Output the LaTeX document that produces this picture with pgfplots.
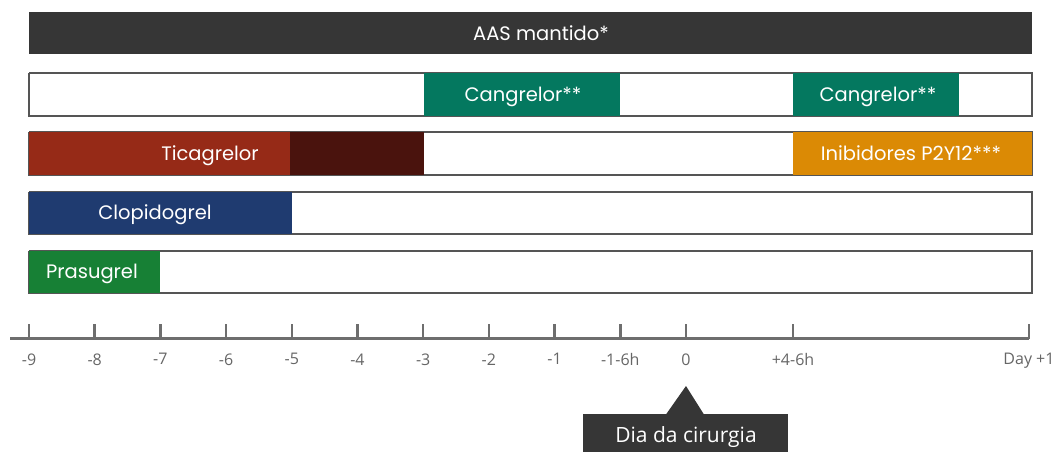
\documentclass[border=0pt]{standalone}
\usepackage{fontspec}
\setmainfont{Open Sans}
\newfontfamily\barfont{Poppins}
\usepackage{pgfplots}
\pgfplotsset{compat=1.18}
\definecolor{aas}{HTML}{363636}
\definecolor{teal}{HTML}{04785F}
\definecolor{tica}{HTML}{962A17}
\definecolor{ticb}{HTML}{4A130D}
\definecolor{orng}{HTML}{DB8A05}
\definecolor{clop}{HTML}{1F3B70}
\definecolor{pras}{HTML}{178035}
\definecolor{axisgray}{HTML}{6E6E6E}
\definecolor{labelgray}{HTML}{666666}
\definecolor{border}{HTML}{555555}
% x unit: 0 = day -9, 1 step = one tick; y: minus pixel row
\newcommand{\seg}[5]{\addplot[fill=#5, draw=none] coordinates {(#1,-#3) (#2,-#3) (#2,-#4) (#1,-#4)};}
\newcommand{\rowbox}[2]{\addplot[fill=white, draw=border, line width=1.2pt, line join=miter] coordinates {(0,-#1) (15.266,-#1) (15.266,-#2) (0,-#2) (0,-#1)};}
\begin{document}
\begin{tikzpicture}
\useasboundingbox (-10pt,-113pt) rectangle (1043pt,339pt);
\begin{axis}[
  at={(0,0)}, anchor=south west,
  scale only axis, width=1019pt, height=339pt,
  xmin=-0.2892, xmax=15.2207, ymin=-339, ymax=0,
  axis x line*=bottom, axis y line=none,
  x axis line style={-, line width=3pt, draw=axisgray},
  xtick={0,1,2,3,4,5,6,7,8,9,10,11.629,15.2207},
  xticklabels={-9,-8,-7,-6,-5,-4,-3,-2,-1,-1-6h,0,+4-6h,Day +1},
  tick align=inside, major tick length=15pt,
  xtick style={line width=2.5pt, draw=axisgray},
  xticklabel style={font=\fontsize{16}{19}\selectfont, text=labelgray, yshift=-11pt},
  clip=false,
]
% Row 1: AAS
\seg{0}{15.266}{12}{54}{aas}
% Row 2: Cangrelor
\rowbox{73}{116}
\seg{6.012}{8.995}{73}{116}{teal}
\seg{11.629}{14.155}{73}{116}{teal}
% Row 3: Ticagrelor
\rowbox{132}{175}
\seg{0}{3.973}{132}{175}{tica}
\seg{3.973}{6.012}{132}{175}{ticb}
\seg{11.629}{15.266}{132}{175}{orng}
% Row 4: Clopidogrel
\rowbox{192}{234}
\seg{0}{4.003}{192}{234}{clop}
% Row 5: Prasugrel
\rowbox{251}{293}
\seg{0}{1.994}{251}{293}{pras}

\begin{scope}[every node/.style={text=white, font=\barfont\fontsize{19.5}{23}\selectfont, anchor=mid, inner sep=0pt}]
\node at (axis cs:7.793,-38) {AAS mantido*};
\node at (axis cs:7.519,-99) {Cangrelor**};
\node at (axis cs:12.922,-99) {Cangrelor**};
\node at (axis cs:2.755,-158) {Ticagrelor};
\node at (axis cs:13.425,-158) {Inibidores P2Y12***};
\node at (axis cs:1.918,-217) {Clopidogrel};
\node at (axis cs:0.959,-276) {Prasugrel};
\end{scope}

% callout
\fill[aas] (axis cs:10.0,-386) -- (axis cs:10.274,-414.5) -- (axis cs:9.695,-414.5) -- cycle;
\fill[aas] (axis cs:8.432,-414) rectangle (axis cs:11.553,-452);
\node[text=white, font=\fontsize{21}{24}\selectfont, anchor=mid, inner sep=0pt] at (axis cs:10.0,-440) {Dia da cirurgia};
\end{axis}
\end{tikzpicture}
\end{document}
